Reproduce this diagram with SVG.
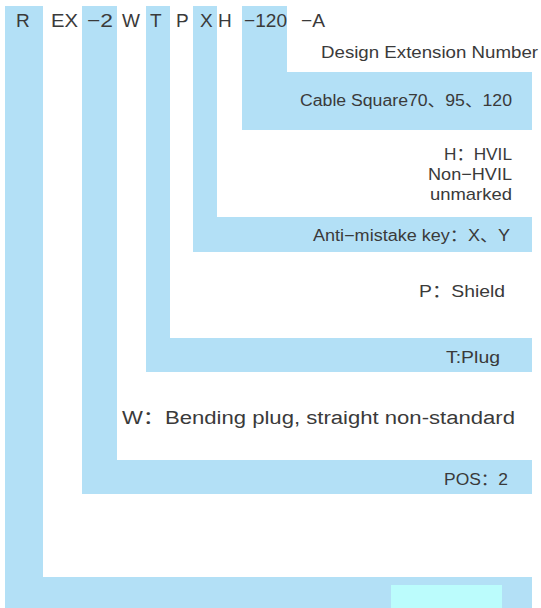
<svg xmlns="http://www.w3.org/2000/svg" width="541" height="608" viewBox="0 0 541 608">
<style>
.band{fill:#b3e0f6}
.code{font-family:"Liberation Sans",Arial,sans-serif;font-size:19px;fill:#3a3a3a}
.lbl{font-family:"Liberation Sans","Noto Sans CJK SC",sans-serif;font-size:16px;fill:#3a3a3a}
.h{font-size:17px}
</style>
<rect width="541" height="608" fill="#ffffff"/>
<g id="seg-R">
<path class="band" d="M5 6H43V577H532V608H5Z"/>
<rect x="391" y="585" width="111" height="23" fill="#bbfcfc"/>
<text class="code" x="16" y="27">R</text>
</g>
<g id="seg-EX">
<text class="code" x="51" y="27" textLength="27" lengthAdjust="spacingAndGlyphs">EX</text>
</g>
<g id="seg-2">
<path class="band" d="M82 6H117V460H532V494H82Z"/>
<text class="code" x="87" y="27" textLength="26" lengthAdjust="spacingAndGlyphs">−2</text>
<text class="lbl" x="444" y="485" textLength="64" lengthAdjust="spacingAndGlyphs">POS：2</text>
</g>
<g id="seg-W">
<text class="code" x="122" y="27">W</text>
<text class="lbl" x="122" y="424" style="font-size:18px" textLength="393" lengthAdjust="spacingAndGlyphs">W：Bending plug, straight non-standard</text>
</g>
<g id="seg-T">
<path class="band" d="M146 6H170V338H532V372H146Z"/>
<text class="code" x="150" y="27">T</text>
<text class="lbl" x="446" y="363" style="font-size:17px" textLength="54" lengthAdjust="spacingAndGlyphs">T:Plug</text>
</g>
<g id="seg-P">
<text class="code" x="176" y="27">P</text>
<text class="lbl" x="419" y="297" style="font-size:17px" textLength="86" lengthAdjust="spacingAndGlyphs">P：Shield</text>
</g>
<g id="seg-X">
<path class="band" d="M193 6H217V217H532V252H193Z"/>
<text class="code" x="200" y="27">X</text>
<text class="lbl" x="313" y="241" textLength="197" lengthAdjust="spacingAndGlyphs">Anti−mistake key：X、Y</text>
</g>
<g id="seg-H">
<text class="code" x="218" y="27">H</text>
<text class="lbl h" x="444" y="160" textLength="68" lengthAdjust="spacingAndGlyphs">H：HVIL</text>
<text class="lbl h" x="428" y="180" textLength="84" lengthAdjust="spacingAndGlyphs">Non−HVIL</text>
<text class="lbl h" x="430" y="200" textLength="82" lengthAdjust="spacingAndGlyphs">unmarked</text>
</g>
<g id="seg-120">
<path class="band" d="M242 6H287V72H532V130H242Z"/>
<text class="code" x="244" y="27" textLength="43" lengthAdjust="spacingAndGlyphs">−120</text>
<text class="lbl" x="300" y="106" textLength="212" lengthAdjust="spacingAndGlyphs">Cable Square70、95、120</text>
</g>
<g id="seg-A">
<text class="code" x="301" y="27" textLength="24" lengthAdjust="spacingAndGlyphs">−A</text>
<text class="lbl" x="321" y="58" textLength="217" lengthAdjust="spacingAndGlyphs">Design Extension Number</text>
</g>
<g id="connectors"/>
</svg>
